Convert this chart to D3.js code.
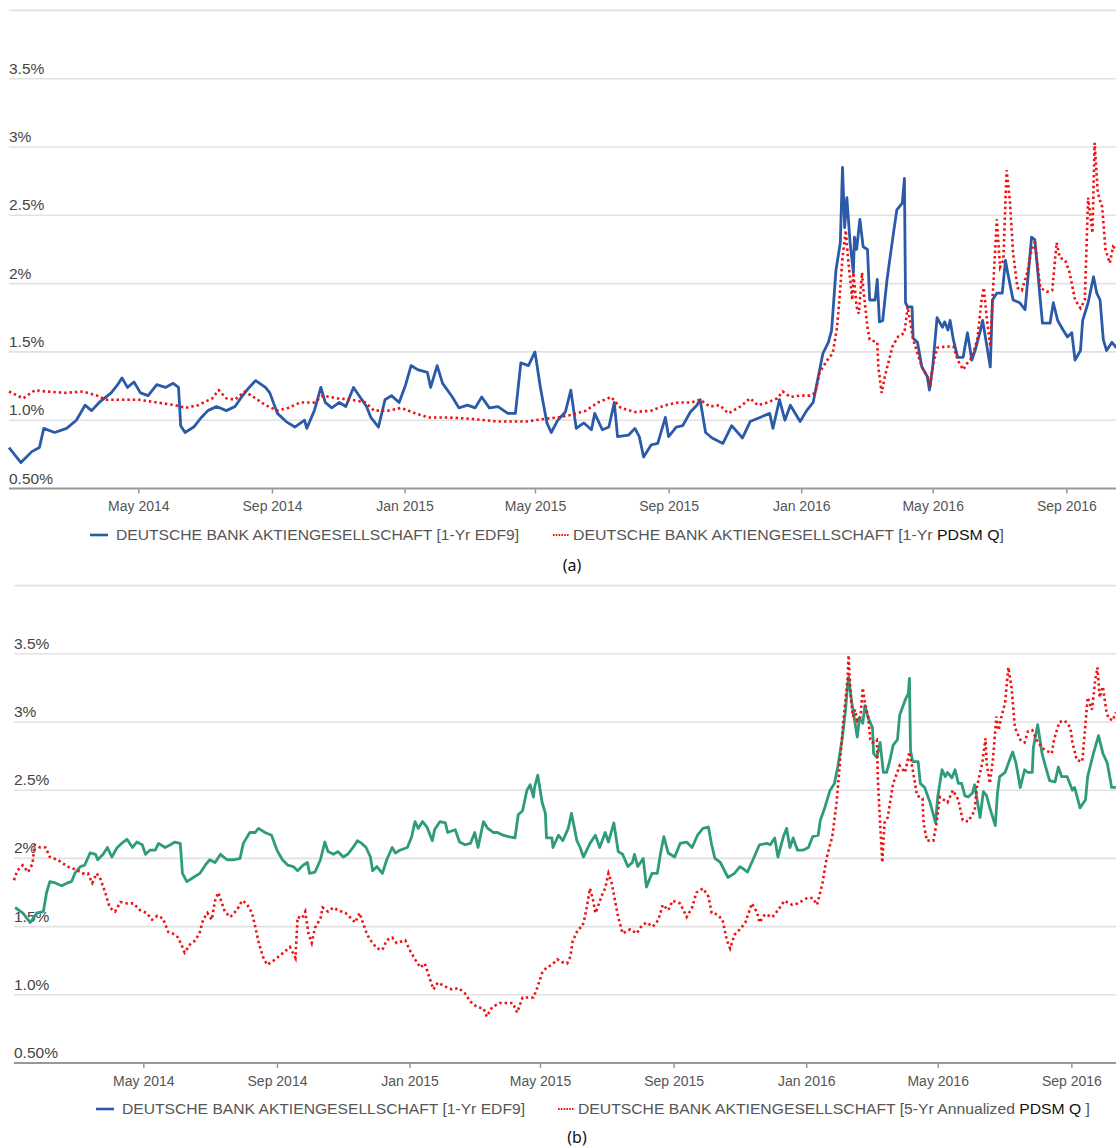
<!DOCTYPE html>
<html><head><meta charset="utf-8">
<script src="https://cdnjs.cloudflare.com/ajax/libs/d3/7.8.5/d3.min.js"></script>
<style>body{margin:0;background:#fff}svg{display:block}</style>
</head><body>
<svg id="c" width="1116" height="1148"></svg>
<script>
// ---- data: [day offset from startDate, value in %] ----
const startDate = "2014-01-02";
const endDate = "2016-10-17";
const tickDates = ["2014-05-01","2014-09-01","2015-01-01","2015-05-01","2015-09-01","2016-01-01","2016-05-01","2016-09-01"];
const yTicks = [0.5,1,1.5,2,2.5,3,3.5];
const yTickLabels = ["0.50%","1.0%","1.5%","2%","2.5%","3%","3.5%"];
const gridValues = [1,1.5,2,2.5,3,3.5,4];

const edfA = [[0,.80],[11,.69],[21,.77],[28,.80],[32,.94],[42,.91],[53,.94],[62,1.00],[70,1.11],[76,1.07],[83,1.13],[94,1.20],[100,1.26],[104,1.31],[109,1.24],[115,1.28],[121,1.20],[128,1.18],[136,1.26],[144,1.24],[151,1.27],[156,1.24],[158,.96],[162,.91],[170,.95],[177,1.02],[183,1.07],[191,1.10],[200,1.07],[208,1.10],[214,1.17],[221,1.24],[227,1.29],[236,1.24],[240,1.20],[247,1.05],[255,.99],[263,.95],[272,1.00],[274,.94],[281,1.07],[287,1.24],[291,1.13],[297,1.09],[304,1.13],[310,1.10],[317,1.24],[323,1.17],[329,1.10],[333,1.02],[340,.95],[346,1.15],[352,1.18],[359,1.13],[365,1.26],[370,1.40],[376,1.37],[385,1.35],[388,1.24],[394,1.40],[399,1.27],[408,1.17],[414,1.09],[422,1.11],[429,1.09],[435,1.17],[442,1.09],[450,1.10],[459,1.05],[466,1.05],[471,1.42],[478,1.40],[484,1.50],[489,1.24],[495,.98],[499,.91],[505,1.00],[512,1.06],[517,1.22],[522,.94],[529,.98],[536,.93],[539,1.05],[546,.93],[552,.95],[557,1.13],[560,.88],[570,.89],[576,.94],[580,.88],[584,.73],[591,.82],[597,.83],[604,1.02],[607,.88],[614,.95],[620,.96],[627,1.06],[633,1.11],[636,1.15],[641,.91],[647,.87],[657,.83],[665,.96],[675,.87],[682,.99],[691,1.02],[700,1.05],[703,.94],[709,1.15],[714,1.00],[719,1.11],[728,.99],[734,1.07],[740,1.13],[744,1.29],[749,1.49],[754,1.57],[757,1.66],[761,2.10],[765,2.30],[767,2.85],[769,2.41],[771,2.63],[774,2.30],[777,2.08],[778,2.34],[780,2.25],[783,2.47],[786,2.27],[790,2.25],[792,1.88],[797,1.88],[799,2.03],[801,1.72],[804,1.73],[808,2.03],[813,2.32],[817,2.54],[822,2.59],[824,2.77],[825,1.86],[827,1.83],[831,1.83],[832,1.60],[836,1.57],[840,1.39],[845,1.32],[847,1.22],[850,1.39],[854,1.75],[859,1.68],[861,1.72],[864,1.66],[866,1.73],[869,1.59],[873,1.46],[878,1.46],[882,1.64],[886,1.44],[889,1.51],[894,1.66],[896,1.73],[903,1.39],[905,1.88],[909,1.93],[914,1.93],[917,2.17],[919,2.08],[924,1.88],[930,1.86],[935,1.81],[941,2.34],[944,2.32],[946,2.15],[949,1.88],[951,1.71],[958,1.71],[961,1.86],[965,1.73],[970,1.66],[974,1.61],[978,1.64],[981,1.44],[986,1.51],[988,1.73],[993,1.86],[998,2.05],[1001,1.93],[1004,1.88],[1007,1.59],[1010,1.51],[1015,1.57],[1019,1.53]];

const pdsmA = [[0,1.21],[13,1.16],[24,1.22],[34,1.21],[52,1.20],[68,1.21],[81,1.18],[89,1.15],[102,1.15],[119,1.15],[136,1.13],[153,1.11],[162,1.09],[174,1.11],[187,1.16],[193,1.22],[200,1.16],[208,1.15],[217,1.21],[225,1.17],[236,1.11],[247,1.07],[257,1.09],[268,1.13],[281,1.13],[289,1.18],[302,1.16],[315,1.15],[328,1.13],[336,1.07],[349,1.07],[361,1.09],[374,1.05],[386,1.02],[404,1.02],[425,1.01],[450,.99],[476,.99],[493,1.01],[505,1.02],[518,1.04],[531,1.07],[542,1.13],[554,1.17],[563,1.09],[576,1.06],[591,1.07],[604,1.11],[616,1.13],[628,1.13],[636,1.15],[645,1.10],[654,1.11],[662,1.05],[673,1.10],[682,1.16],[689,1.11],[698,1.13],[707,1.16],[712,1.21],[719,1.17],[728,1.18],[737,1.18],[742,1.20],[746,1.35],[753,1.44],[758,1.49],[762,1.68],[765,1.97],[767,2.19],[770,2.39],[772,2.19],[776,1.88],[777,2.08],[780,1.83],[782,1.78],[785,2.08],[786,1.97],[790,1.68],[792,1.59],[799,1.57],[800,1.39],[803,1.20],[806,1.32],[813,1.54],[818,1.61],[824,1.64],[827,1.83],[832,1.59],[836,1.49],[840,1.39],[845,1.32],[848,1.27],[850,1.39],[854,1.53],[863,1.54],[869,1.54],[873,1.44],[878,1.37],[882,1.42],[886,1.46],[891,1.59],[895,1.88],[897,1.97],[900,1.73],[903,1.54],[905,1.88],[909,2.47],[912,2.12],[915,2.17],[918,2.83],[921,2.61],[924,2.22],[928,1.97],[932,1.95],[937,2.08],[941,2.25],[944,2.30],[949,1.97],[955,1.94],[960,1.95],[964,2.30],[967,2.19],[972,2.17],[976,2.08],[981,1.88],[986,1.82],[990,1.88],[993,2.63],[997,2.37],[999,3.03],[1002,2.66],[1006,2.56],[1009,2.25],[1013,2.15],[1016,2.27],[1019,2.25]];

const edfB = [[1,1.64],[8,1.60],[15,1.53],[21,1.60],[27,1.61],[30,1.75],[33,1.83],[38,1.82],[44,1.80],[49,1.82],[53,1.83],[56,1.89],[61,1.94],[65,1.95],[70,2.04],[75,2.03],[77,1.99],[82,2.03],[86,2.08],[90,2.01],[95,2.08],[99,2.11],[104,2.14],[109,2.08],[113,2.12],[118,2.10],[121,2.03],[125,2.06],[130,2.06],[133,2.11],[139,2.08],[144,2.10],[148,2.12],[153,2.11],[155,1.89],[159,1.83],[165,1.86],[171,1.89],[176,1.95],[180,1.99],[185,1.97],[190,2.03],[196,1.99],[202,1.99],[208,2.00],[211,2.11],[217,2.19],[222,2.19],[225,2.22],[231,2.19],[237,2.17],[242,2.06],[247,1.99],[252,1.95],[257,1.94],[261,1.91],[266,1.95],[270,1.97],[272,1.89],[277,1.90],[282,1.99],[286,2.12],[289,2.05],[294,2.03],[298,2.05],[303,2.01],[307,2.03],[312,2.08],[316,2.13],[320,2.11],[324,2.08],[328,2.01],[330,1.91],[334,1.94],[339,1.89],[343,1.99],[348,2.08],[351,2.04],[355,2.06],[362,2.08],[366,2.16],[369,2.27],[372,2.22],[376,2.27],[380,2.23],[385,2.13],[387,2.21],[392,2.27],[397,2.26],[399,2.19],[406,2.21],[410,2.12],[415,2.10],[420,2.11],[424,2.19],[427,2.08],[432,2.27],[436,2.22],[441,2.19],[445,2.19],[450,2.17],[455,2.16],[461,2.15],[464,2.32],[468,2.35],[472,2.50],[475,2.54],[478,2.45],[479,2.52],[482,2.61],[486,2.41],[489,2.33],[490,2.15],[495,2.15],[496,2.08],[501,2.17],[505,2.13],[510,2.22],[513,2.33],[518,2.13],[521,2.08],[524,2.01],[530,2.11],[535,2.17],[539,2.08],[544,2.19],[547,2.12],[552,2.26],[556,2.05],[560,2.03],[565,1.94],[569,1.97],[571,2.03],[574,1.94],[579,2.00],[582,1.79],[587,1.89],[592,1.89],[595,2.04],[598,2.16],[602,2.04],[608,2.01],[613,2.11],[619,2.12],[624,2.08],[629,2.17],[634,2.22],[639,2.23],[642,2.10],[645,2.00],[650,1.97],[657,1.86],[663,1.89],[668,1.94],[670,1.93],[675,1.90],[680,1.99],[686,2.10],[693,2.11],[696,2.10],[700,2.15],[703,2.01],[708,2.16],[711,2.22],[714,2.08],[717,2.15],[721,2.06],[726,2.06],[731,2.08],[735,2.16],[740,2.17],[742,2.28],[746,2.37],[751,2.50],[755,2.55],[758,2.67],[762,2.87],[765,3.07],[767,3.26],[768,3.33],[771,3.14],[773,3.04],[776,2.89],[778,3.03],[781,2.99],[783,3.12],[786,3.03],[790,2.96],[791,2.77],[794,2.74],[797,2.85],[800,2.63],[803,2.63],[806,2.72],[809,2.83],[813,2.87],[815,3.05],[820,3.16],[823,3.21],[824,3.32],[825,2.79],[827,2.71],[832,2.71],[834,2.55],[838,2.52],[843,2.41],[846,2.32],[848,2.26],[850,2.45],[854,2.65],[857,2.60],[859,2.63],[863,2.59],[866,2.65],[869,2.55],[872,2.55],[875,2.46],[878,2.45],[882,2.48],[884,2.54],[889,2.30],[892,2.49],[895,2.46],[898,2.37],[903,2.24],[905,2.48],[907,2.60],[912,2.63],[917,2.74],[919,2.78],[922,2.70],[926,2.52],[930,2.65],[933,2.63],[937,2.63],[938,2.81],[941,2.94],[942,2.98],[946,2.77],[949,2.68],[953,2.57],[958,2.56],[961,2.67],[964,2.60],[969,2.60],[974,2.50],[976,2.52],[981,2.37],[986,2.43],[988,2.60],[993,2.76],[998,2.90],[1002,2.77],[1006,2.70],[1009,2.57],[1010,2.52],[1014,2.52]];

const pdsmB = [[0,1.84],[3,1.91],[8,1.95],[13,1.90],[17,1.96],[19,2.10],[24,2.08],[29,2.08],[33,2.01],[40,1.99],[44,1.97],[49,1.94],[53,1.93],[59,1.91],[63,1.89],[68,1.89],[72,1.82],[76,1.89],[79,1.86],[84,1.75],[88,1.64],[93,1.61],[98,1.68],[104,1.67],[110,1.67],[116,1.62],[122,1.60],[127,1.55],[132,1.58],[137,1.56],[142,1.46],[146,1.45],[151,1.42],[155,1.35],[157,1.31],[162,1.37],[167,1.40],[171,1.46],[174,1.55],[178,1.60],[182,1.55],[185,1.69],[188,1.75],[191,1.68],[194,1.61],[199,1.57],[205,1.62],[210,1.69],[214,1.67],[219,1.60],[222,1.50],[225,1.39],[229,1.28],[233,1.22],[237,1.24],[242,1.27],[248,1.31],[254,1.35],[259,1.27],[261,1.57],[265,1.56],[268,1.61],[271,1.45],[274,1.38],[277,1.49],[282,1.56],[284,1.64],[289,1.61],[294,1.64],[298,1.62],[305,1.60],[309,1.57],[314,1.53],[318,1.60],[321,1.53],[325,1.44],[329,1.39],[334,1.34],[339,1.33],[343,1.40],[348,1.42],[352,1.38],[360,1.40],[364,1.33],[369,1.26],[374,1.20],[378,1.23],[383,1.11],[386,1.04],[390,1.09],[397,1.06],[403,1.04],[409,1.05],[415,1.01],[420,.95],[426,.91],[432,.90],[435,.84],[440,.91],[447,.94],[454,.94],[459,.94],[463,.87],[468,.98],[473,.98],[478,.98],[481,1.04],[486,1.16],[490,1.20],[495,1.22],[500,1.26],[504,1.24],[509,1.23],[512,1.28],[514,1.39],[519,1.48],[523,1.50],[525,1.56],[527,1.64],[530,1.78],[533,1.69],[535,1.60],[537,1.64],[541,1.73],[544,1.78],[547,1.89],[550,1.82],[553,1.69],[556,1.57],[560,1.45],[567,1.48],[573,1.45],[578,1.51],[582,1.53],[588,1.50],[593,1.55],[597,1.66],[602,1.62],[606,1.69],[613,1.67],[619,1.57],[624,1.64],[628,1.75],[634,1.78],[639,1.72],[642,1.60],[647,1.59],[652,1.55],[656,1.40],[659,1.34],[663,1.44],[668,1.48],[673,1.53],[679,1.67],[684,1.60],[686,1.53],[691,1.59],[698,1.57],[703,1.62],[709,1.69],[716,1.66],[721,1.67],[730,1.71],[735,1.71],[739,1.66],[744,1.82],[748,2.01],[753,2.16],[757,2.41],[760,2.70],[763,2.99],[767,3.31],[768,3.49],[770,3.18],[772,3.04],[774,3.09],[776,3.01],[779,3.04],[781,3.25],[783,3.14],[786,3.04],[788,2.87],[790,2.85],[794,2.87],[795,2.57],[797,2.26],[799,1.97],[801,2.26],[804,2.30],[809,2.55],[815,2.68],[820,2.63],[824,2.78],[827,2.65],[831,2.46],[836,2.44],[837,2.26],[840,2.13],[846,2.13],[849,2.26],[852,2.45],[859,2.41],[864,2.50],[869,2.43],[873,2.28],[878,2.27],[884,2.35],[886,2.52],[891,2.70],[894,2.88],[895,2.70],[898,2.55],[901,2.74],[904,3.04],[906,2.94],[909,3.05],[912,3.14],[915,3.40],[918,3.25],[921,2.96],[926,2.87],[930,2.85],[933,2.93],[937,2.94],[941,2.87],[946,2.81],[950,2.79],[955,2.77],[957,2.87],[962,3.00],[967,3.01],[972,2.96],[974,2.85],[978,2.72],[983,2.71],[985,2.89],[988,3.18],[992,3.09],[995,3.31],[997,3.40],[999,3.18],[1002,3.26],[1005,3.09],[1007,3.03],[1011,3.01],[1014,3.07]];

const legendA = ["DEUTSCHE BANK AKTIENGESELLSCHAFT [1-Yr EDF9]", "DEUTSCHE BANK AKTIENGESELLSCHAFT [1-Yr ", "PDSM Q", "]"];
const legendB = ["DEUTSCHE BANK AKTIENGESELLSCHAFT [1-Yr EDF9]", "DEUTSCHE BANK AKTIENGESELLSCHAFT [5-Yr Annualized ", "PDSM Q", " ]"];

// ---- drawing ----
const svg = d3.select("#c");
const W = 1116;
const parse = d3.utcParse("%Y-%m-%d");
const t0 = parse(startDate), t1 = parse(endDate);
const FONT = "'Liberation Sans', Arial, Helvetica, sans-serif";
const BLUE = "#2b5aa8", GREEN = "#2e9c7c", RED = "#f01010";
const DOT = "2.4,3";

function panel(cfg) {
  const g = svg.append("g");
  const x = d3.scaleUtc().domain([t0, t1]).range([cfg.x0, cfg.x0 + 1019 * 1.0867]);
  const y = d3.scaleLinear().domain([0.5, 4]).range([cfg.yb, cfg.yb - 3.5 * cfg.step]);

  g.selectAll("line.grid").data(gridValues).join("line")
    .attr("x1", cfg.x0).attr("x2", W)
    .attr("y1", d => y(d)).attr("y2", d => y(d))
    .attr("stroke", "#e2e2e2").attr("stroke-width", 1.6);

  g.selectAll("text.yl").data(yTicks).join("text")
    .attr("x", cfg.x0).attr("y", d => y(d) - 5)
    .attr("font-family", FONT).attr("font-size", 15.5).attr("fill", "#444")
    .text((d, i) => yTickLabels[i]);

  const xa = g.append("g").attr("transform", `translate(0,${y(0.5)})`)
    .call(d3.axisBottom(x).tickValues(tickDates.map(parse)).tickSize(5).tickSizeOuter(0)
      .tickFormat(d3.utcFormat("%b %Y")));
  xa.select(".domain").attr("stroke", "#999").attr("stroke-width", 2)
    .attr("d", `M${cfg.x0},0H${W}`);
  xa.selectAll(".tick line").attr("stroke", "#999").attr("stroke-width", 1.5);
  xa.selectAll(".tick text").attr("font-family", FONT).attr("font-size", 14)
    .attr("fill", "#555").attr("dy", "1.05em");

  const line = d3.line()
    .x(d => x(d3.utcDay.offset(t0, d[0])))
    .y(d => y(d[1]));

  g.append("path").datum(cfg.solid).attr("d", line)
    .attr("fill", "none").attr("stroke", cfg.solidColor).attr("stroke-width", 2.8)
    .attr("stroke-linejoin", "round");
  g.append("path").datum(cfg.dotted).attr("d", line)
    .attr("fill", "none").attr("stroke", RED).attr("stroke-width", 2.6)
    .attr("stroke-dasharray", DOT);

  // legend
  const ly = cfg.legY;
  g.append("line").attr("x1", cfg.leg1x - 26).attr("x2", cfg.leg1x - 8)
    .attr("y1", ly - 5).attr("y2", ly - 5).attr("stroke", BLUE).attr("stroke-width", 2.6);
  g.append("text").attr("x", cfg.leg1x).attr("y", ly)
    .attr("font-family", FONT).attr("font-size", 15).attr("fill", "#555")
    .attr("textLength", cfg.leg1w).attr("lengthAdjust", "spacingAndGlyphs")
    .text(cfg.legend[0]);
  g.append("line").attr("x1", cfg.leg2x - 20).attr("x2", cfg.leg2x - 4)
    .attr("y1", ly - 5).attr("y2", ly - 5).attr("stroke", RED).attr("stroke-width", 2.2)
    .attr("stroke-dasharray", "1.6,1.2");
  const t2 = g.append("text").attr("x", cfg.leg2x).attr("y", ly)
    .attr("font-family", FONT).attr("font-size", 15).attr("fill", "#555")
    .attr("textLength", cfg.leg2w).attr("lengthAdjust", "spacingAndGlyphs");
  t2.append("tspan").text(cfg.legend[1]);
  t2.append("tspan").attr("fill", "#111").text(cfg.legend[2]);
  t2.append("tspan").text(cfg.legend[3]);

  g.append("text").attr("x", cfg.capX).attr("y", cfg.capY)
    .attr("text-anchor", "middle").attr("font-family", "'Noto Sans', 'Open Sans', sans-serif")
    .attr("font-size", 16).attr("fill", "#111").text(cfg.caption);
}

panel({x0: 9, yb: 488.5, step: 136.6, solid: edfA, solidColor: BLUE, dotted: pdsmA,
  legY: 540, leg1x: 116, leg1w: 403, leg2x: 573, leg2w: 431, legend: legendA,
  caption: "(a)", capX: 572, capY: 571});
panel({x0: 14, yb: 1063, step: 136.4, solid: edfB, solidColor: GREEN, dotted: pdsmB,
  legY: 1114, leg1x: 122, leg1w: 403, leg2x: 578, leg2w: 512, legend: legendB,
  caption: "(b)", capX: 577, capY: 1143});
</script>
</body></html>
